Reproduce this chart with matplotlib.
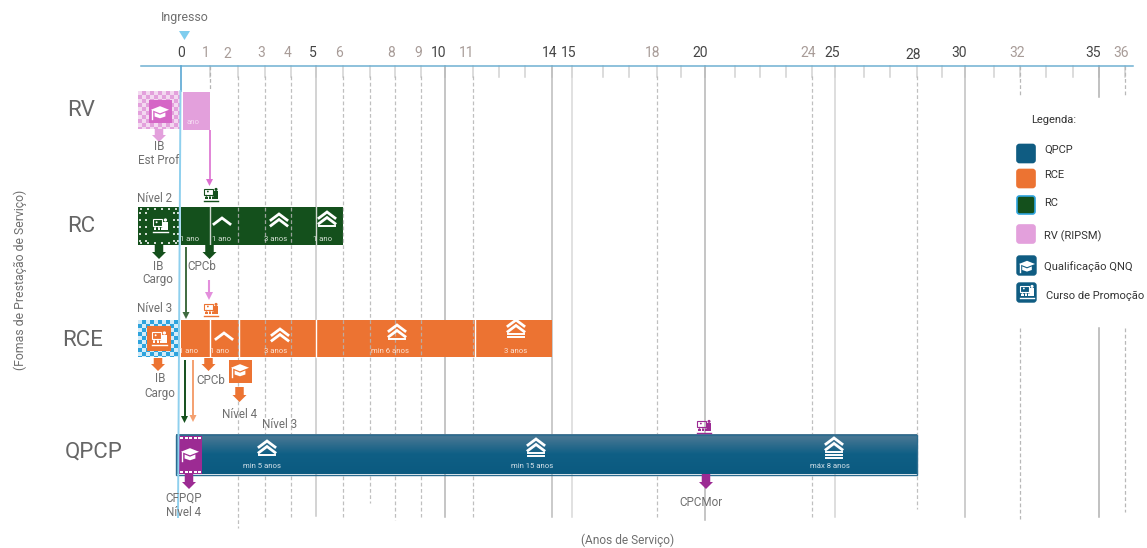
import matplotlib
matplotlib.use("Agg")
import matplotlib.pyplot as plt
from matplotlib.patches import Rectangle, Polygon, Circle, FancyBboxPatch
from matplotlib.colors import LinearSegmentedColormap
import numpy as np

plt.rcParams['font.family'] = ['Roboto', 'DejaVu Sans']

# --- data ---
ROWS = ['RV', 'RC', 'RCE', 'QPCP']
RV_BAR = (0.08, 1)
RC_BAR = (0, 6)
RCE_BAR = (0, 14)
QPCP_BAR = (-0.18, 28)

RC_SPLITS = [1, 5]
RCE_SPLITS = [1, 2.05, 5, 11.08]
QPCP_SPLITS = [5, 20]

TICK_LABELS = [0, 1, 2, 3, 4, 5, 6, 8, 9, 10, 11, 14, 15, 18, 20, 24, 25, 28, 30, 32, 35, 36]
STRONG_YEARS = [0, 5, 10, 14, 15, 20, 25, 28, 30, 35]
SOLID_YEARS = [5, 10, 14, 15, 20, 25, 30, 35]
DASHED_YEARS = [2, 3, 4, 6, 7, 8, 9, 11, 18, 24, 28, 32, 36]
ALL_YEARS = list(range(0, 37))

RC_NOTES = [(0.3, '1 ano'), (1.4, '1 ano'), (3.4, '3 anos'), (5.25, '1 ano')]
RCE_NOTES = [(0.27, '1 ano'), (1.35, '1 ano'), (3.4, '3 anos'), (7.8, 'min 6 anos'), (12.65, '3 anos')]
QPCP_NOTES = [(2.9, 'min 5 anos'), (13.25, 'min 15 anos'), (24.8, 'máx 8 anos')]

LEGEND = ['QPCP', 'RCE', 'RC', 'RV (RIPSM)']

# the year axis of the original is hand spaced, this is its scale
SCALE_YEARS = [-6.88, 0, 1, 2, 3, 4, 5, 6, 7, 8, 9, 10, 11, 12, 13, 14, 15, 16, 17, 18, 19, 20, 21, 22, 23,
               24, 25, 26, 27, 28, 29, 30, 31, 32, 33, 34, 35, 36, 36.84]
SCALE_PX = [0, 181, 210, 238, 265, 291, 316, 343, 370, 395, 421, 445, 473, 499, 525, 552, 572, 603, 629, 657,
            681, 705, 735, 760, 786, 812, 835, 864, 890, 917, 942, 965, 994, 1020, 1046, 1073, 1099, 1125, 1147]

BLUE = '#0f5c82'
ORANGE = '#ec7332'
GREEN = '#14501c'
PINK = '#e3a0dc'
PURPLE = '#9c2b93'
TXT = '#6f6f6f'


def forward(x):
    return np.interp(x, SCALE_YEARS, SCALE_PX)


def inverse(p):
    return np.interp(p, SCALE_PX, SCALE_YEARS)


fig = plt.figure(figsize=(11.47, 5.48), dpi=100)

# years axis for the marks
ax = fig.add_axes([0, 0, 1, 1])
ax.set_xscale('function', functions=(forward, inverse))
ax.set_xlim(SCALE_YEARS[0], SCALE_YEARS[-1])
ax.set_ylim(548, 0)
ax.axis('off')

# pixel axis on top for icons and labels
px = fig.add_axes([0, 0, 1, 1])
px.set_xlim(0, 1147)
px.set_ylim(548, 0)
px.axis('off')
px.patch.set_alpha(0)


def box(x0, y0, x1, y1, color, z=5, **kw):
    px.add_patch(Rectangle((x0, y0), x1 - x0, y1 - y0, facecolor=color, edgecolor='none', zorder=z, **kw))


def block_arrow(x, y0, y1, color, w=8.5, hw=14, hl=7):
    head = y1 - hl
    px.add_patch(Polygon([(x - w / 2, y0), (x + w / 2, y0), (x + w / 2, head), (x + hw / 2, head), (x, y1),
                          (x - hw / 2, head), (x - w / 2, head)], facecolor=color, edgecolor='none', zorder=6))


def thin_arrow(x, y0, y1, color, lw=1.3, hw=7, hl=7):
    px.plot([x, x], [y0, y1 - hl], color=color, lw=lw, zorder=6, solid_capstyle='butt')
    px.add_patch(Polygon([(x - hw / 2, y1 - hl), (x + hw / 2, y1 - hl), (x, y1)], facecolor=color,
                         edgecolor='none', zorder=6))


def chevrons(cx, top, n, bars=0, color='white'):
    y = top
    for i in range(n):
        px.plot([cx - 8, cx, cx + 8], [y + 6, y, y + 6], color=color, lw=2, zorder=8, solid_joinstyle='miter')
        y += 5.5
    y += 2.5
    for i in range(bars):
        px.plot([cx - 8, cx + 8], [y, y], color=color, lw=1.4, zorder=8)
        y += 3


def cap(cx, cy, s, color='white', z=8):
    px.add_patch(Polygon([(cx - s, cy - .25 * s), (cx, cy - .65 * s), (cx + s, cy - .25 * s), (cx, cy + .15 * s)],
                         facecolor=color, edgecolor='none', zorder=z))
    px.add_patch(Polygon([(cx - .6 * s, cy + .05 * s), (cx, cy + .3 * s), (cx + .6 * s, cy + .05 * s),
                          (cx + .6 * s, cy + .5 * s), (cx, cy + .7 * s), (cx - .6 * s, cy + .5 * s)],
                         facecolor=color, edgecolor='none', zorder=z))
    px.plot([cx - .85 * s, cx - .85 * s], [cy - .2 * s, cy + .75 * s], color=color, lw=1, zorder=z)


def classroom(cx, cy, s, color='white', z=8):
    # screen, speaker and the line of people
    px.add_patch(Rectangle((cx - s, cy - s * .9), s * 1.3, s * .9, facecolor='none', edgecolor=color, lw=0.8, zorder=z))
    px.add_patch(Circle((cx - s * .45, cy - s * .5), s * .13, facecolor=color, edgecolor='none', zorder=z))
    px.add_patch(Circle((cx + s * .72, cy - s * .8), s * .22, facecolor=color, edgecolor='none', zorder=z))
    px.add_patch(Rectangle((cx + s * .45, cy - s * .55), s * .55, s * 1.1, facecolor=color, edgecolor='none', zorder=z))
    for dx in (-.65, -.15, .3):
        px.add_patch(Circle((cx + dx * s, cy + s * .12), s * .14, facecolor=color, edgecolor='none', zorder=z))
        px.add_patch(Rectangle((cx + (dx - .17) * s, cy + s * .28), s * .34, s * .3, facecolor=color,
                               edgecolor='none', zorder=z))
    px.plot([cx - s, cx + s], [cy + s * .8, cy + s * .8], color=color, lw=1, zorder=z)


def checks(x0, y0, x1, y1, base, inner=None, cell=4, spot='white', alpha=0.8):
    box(x0, y0, x1, y1, base, z=5)
    for i, x in enumerate(np.arange(x0, x1, cell)):
        for j, y in enumerate(np.arange(y0, y1, cell)):
            if (i + j) % 2 == 0:
                box(x, y, min(x + cell, x1), min(y + cell, y1), spot, z=5.5, alpha=alpha)
    if inner:
        box(inner[0], inner[1], inner[2], inner[3], inner[4], z=6)


def dotted(x0, y0, x1, y1, base, inner):
    # dark box with the white dashes around it
    box(x0, y0, x1, y1, base, z=5)
    for y in (y0 + 1, y1 - 3):
        for x in np.arange(x0 + 2, x1 - 1, 7):
            box(x, y, x + 2, y + 1.5, 'white', z=5.5, alpha=0.8)
    for y in np.arange(y0 + 5, y1 - 4, 7):
        for x in (x0 + 1, x1 - 3, inner[0] - 4, inner[2] + 2):
            box(x, y, x + 1.5, y + 2, 'white', z=5.5, alpha=0.8)


# --- grid ---
ax.plot([inverse(141), inverse(1133)], [65.5, 65.5], color='#6fb0d2', lw=1.1, zorder=3)
for y in ALL_YEARS[1:]:
    ax.plot([y, y], [66, 77], color='#d2d2d2', lw=1.1, zorder=1)

dash_end = {2: 528, 3: 517, 4: 517, 6: 517, 7: 503, 8: 520, 9: 517, 11: 517, 18: 517, 24: 517, 28: 509, 32: 519, 36: 512}
solid_end = {5: 516, 10: 517, 14: 517, 15: 517, 20: 520, 25: 517, 30: 517, 35: 517}
solid_col = {5: '#c8c8c8', 10: '#b5b5b5', 14: '#bcbcbc', 15: '#d8d8d8', 20: '#b5b5b5', 25: '#d5d5d5', 30: '#c0c0c0', 35: '#b0b0b0'}

for y in SOLID_YEARS:
    if y == 35:
        ax.plot([y, y], [66, 97], color=solid_col[y], lw=1.1, zorder=1)
        ax.plot([y, y], [328, solid_end[y]], color=solid_col[y], lw=1.1, zorder=1)
    else:
        ax.plot([y, y], [66, solid_end[y]], color=solid_col[y], lw=1.1, zorder=1)

for y in DASHED_YEARS:
    if y in (32, 36):
        ax.plot([y, y], [66, 96], color='#b8b8b8', lw=0.9, ls=(0, (3, 2)), zorder=1)
        ax.plot([y, y], [328, dash_end[y]], color='#b8b8b8', lw=0.9, ls=(0, (3, 2)), zorder=1)
    else:
        ax.plot([y, y], [76, dash_end[y]], color='#b4b4b4', lw=0.9, ls=(0, (3, 2)), zorder=7, alpha=0.85)
ax.plot([1, 1], [66, 91], color='#b4b4b4', lw=0.9, ls=(0, (3, 2)), zorder=1)

# entry line
ax.plot([0, 0], [66, 91], color='#5aa7d3', lw=1.2, zorder=7)
px.plot([180.5, 178], [91, 517], color='#8fd0ee', lw=1.4, zorder=7)

tick_px = [181, 206, 227, 261, 288, 313, 339, 391, 418, 439, 467, 550, 569, 653, 700, 808, 832, 913, 959, 1017, 1093, 1121]
tick_py = {2: 54, 28: 55}
for t, x in zip(TICK_LABELS, tick_px):
    col = '#444444' if t in STRONG_YEARS else '#a89c98'
    px.text(x, tick_py.get(t, 53), str(t), ha='center', va='center', fontsize=10, color=col)

px.text(184.5, 18, 'Ingresso', ha='center', va='center', fontsize=8.9, color=TXT)
px.add_patch(Polygon([(179, 31), (190, 31), (184.5, 40)], facecolor='#7fcdee', edgecolor='none'))

# --- bars ---
ax.barh(110.5, RV_BAR[1] - RV_BAR[0], left=RV_BAR[0], height=38, color=PINK, zorder=4)
ax.barh(226, RC_BAR[1] - RC_BAR[0], left=RC_BAR[0], height=38, color=GREEN, zorder=4)
ax.barh(338.5, RCE_BAR[1] - RCE_BAR[0], left=RCE_BAR[0], height=37.5, color=ORANGE, zorder=4)

# gradient for the QPCP bar
x0, x1 = float(forward(QPCP_BAR[0])), float(forward(QPCP_BAR[1]))
grad = np.linspace(0, 1, 40).reshape(-1, 1)
cm = LinearSegmentedColormap.from_list('qpcp', ['#4f7a95', '#0f5f85', '#0b5a80'])
px.imshow(grad, extent=(x0, x1, 474.5, 435), aspect='auto', cmap=cm, zorder=4)
px.set_xlim(0, 1147)
px.set_ylim(548, 0)
px.add_patch(Rectangle((x0, 435), x1 - x0, 39.5, facecolor='none', edgecolor='#2c6c8f', lw=1, zorder=4.5))

for s in RC_SPLITS:
    ax.plot([s, s], [207, 245], color='#cfd8cf', lw=1, zorder=5)
for s in RCE_SPLITS:
    ax.plot([s, s], [320, 357], color='white', lw=1, zorder=5)
for s in QPCP_SPLITS:
    ax.plot([s, s], [435, 474], color='#c8d4dc', lw=1, zorder=5)

# entry boxes
checks(138, 91, 181, 129, PINK, (149, 100, 172, 123, '#d566c6'), alpha=0.6)
cap(160, 112, 9)
dotted(138, 207, 180, 245, GREEN, (149, 214, 171, 238))
classroom(160, 226, 7.5)
checks(138, 320, 179, 357, '#2ea3dd', (147, 326, 171, 351, ORANGE))
classroom(159, 339, 7.5)
box(179, 436, 202, 474, PURPLE, z=6)
for y in (437, 471):
    for x in np.arange(180, 201, 4.5):
        box(x, y, x + 3, y + 1.6, 'white', z=6.5)
cap(190, 454, 9)
box(229, 360, 252, 383, ORANGE, z=6)
cap(240, 370, 9)

# chevrons in the bars
chevrons(222, 218, 1)
chevrons(279, 214, 2)
chevrons(327, 212, 2, 1)
chevrons(224, 333, 1)
chevrons(280, 329, 2)
chevrons(397, 325, 2, 1)
chevrons(516, 320, 2, 2)
chevrons(267, 441, 2, 1)
chevrons(536, 439, 2, 2)
chevrons(834, 438, 2, 3)

# durations
for yr, lab in RC_NOTES:
    px.text(forward(yr), 239, lab, ha='center', va='center', fontsize=5.6, color='#d5e0d5', zorder=9)
for yr, lab in RCE_NOTES:
    px.text(forward(yr), 351, lab, ha='center', va='center', fontsize=5.6, color='#fbe3d5', zorder=9)
for yr, lab in QPCP_NOTES:
    px.text(forward(yr), 466, lab, ha='center', va='center', fontsize=5.6, color='#d5e2ea', zorder=9)
px.text(193, 122, 'ano', ha='center', va='center', fontsize=5.6, color='#f6dcf3', zorder=9)

# arrows
block_arrow(159, 129, 142, PINK)
thin_arrow(209.5, 130, 186, '#dc6fd0', lw=1.2)
block_arrow(159, 245, 259, GREEN)
block_arrow(209.5, 245, 259, GREEN)
thin_arrow(186, 247, 319, '#3f6b3f', lw=1.4)
thin_arrow(209, 280, 300, '#e38fdc', lw=1.5, hw=8, hl=8)
block_arrow(158, 358, 371, ORANGE)
block_arrow(208.5, 358, 371, ORANGE)
block_arrow(239.5, 387, 402, ORANGE)
thin_arrow(184.5, 360, 423, GREEN, lw=1.4)
thin_arrow(193, 360, 422, '#f4a070', lw=1.4)
block_arrow(189, 474, 489, PURPLE)
block_arrow(706, 474, 489, PURPLE)

# small course icons
classroom(211, 195, 7, GREEN)
classroom(211, 310, 7, ORANGE)
classroom(704, 427, 7, PURPLE)

# --- text ---
for name, x, y in zip(ROWS, [81, 81, 83, 94], [111, 226, 340, 452]):
    px.text(x, y, name, ha='center', va='center', fontsize=16, color='#666666')

for x, y, s in [(159, 147, 'IB'), (159, 161, 'Est Prof'), (155, 198, 'Nível 2'), (158, 266, 'IB'),
                (158, 280, 'Cargo'), (202, 267, 'CPCb'), (155, 309, 'Nível 3'), (160, 379, 'IB'),
                (160, 393, 'Cargo'), (211, 380, 'CPCb'), (240, 415, 'Nível 4'), (280, 424, 'Nível 3'),
                (184, 498, 'CFPQP'), (184, 512, 'Nível 4'), (701, 503, 'CPCMor')]:
    px.text(x, y, s, ha='center', va='center', fontsize=8.4, color=TXT, zorder=9)

px.text(628, 540, '(Anos de Serviço)', ha='center', va='center', fontsize=8.6, color=TXT)
px.text(20, 280, '(Fomas de Prestação de Serviço)', ha='center', va='center', rotation=90, fontsize=8.8, color=TXT)

# --- legend ---
px.text(1054, 120, 'Legenda:', ha='center', va='center', fontsize=8, color='#333333')
for lab, col, edge, y, ty in zip(LEGEND, [BLUE, ORANGE, GREEN, PINK], [BLUE, ORANGE, '#2ea3dd', PINK],
                                 [143.5, 168.5, 195, 224], [150, 175, 203, 236]):
    px.add_patch(FancyBboxPatch((1017, y + 1), 18, 18, boxstyle='round,pad=0,rounding_size=2.5', facecolor=col,
                                edgecolor=edge, lw=1.2))
    px.text(1044, ty, lab, ha='left', va='center', fontsize=8, color='#333333')

px.add_patch(FancyBboxPatch((1017, 256), 19, 19, boxstyle='round,pad=0,rounding_size=2.5', facecolor=BLUE, edgecolor=BLUE))
cap(1027, 266, 8)
px.text(1044, 267, 'Qualificação QNQ', ha='left', va='center', fontsize=8, color='#333333')
px.add_patch(FancyBboxPatch((1017, 283), 19, 19, boxstyle='round,pad=0,rounding_size=2.5', facecolor=BLUE, edgecolor=BLUE))
classroom(1027, 292, 7)
px.text(1046, 296, 'Curso de Promoção', ha='left', va='center', fontsize=8, color='#333333')

fig.savefig('out.png', dpi=100, facecolor='white')
